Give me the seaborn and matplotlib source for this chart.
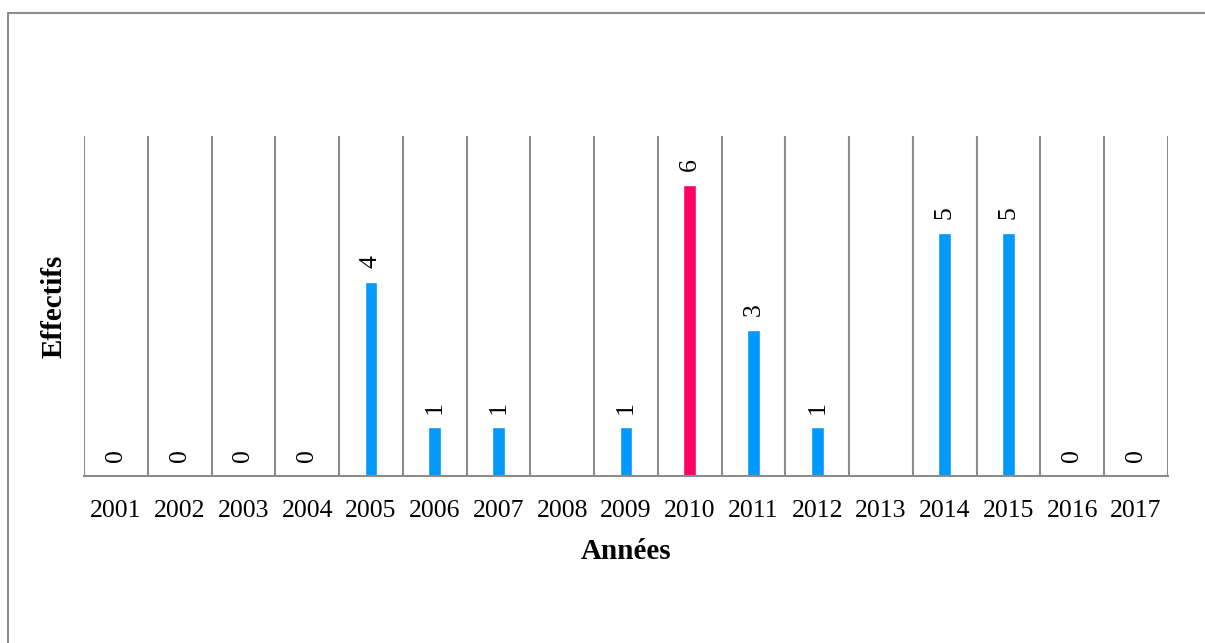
import numpy as np
import pandas as pd
import matplotlib
matplotlib.use("Agg")
import matplotlib.pyplot as plt
import seaborn as sns
from matplotlib.lines import Line2D

annees = [str(a) for a in range(2001, 2018)]
effectifs = [0, 0, 0, 0, 4, 1, 1, np.nan, 1, 6, 3, 1, np.nan, 5, 5, 0, 0]
couleurs = ["#0099FF"] * 9 + ["#FF0066"] + ["#0099FF"] * 7

df = pd.DataFrame({"annee": annees, "effectif": effectifs})

sns.set_style("white")
plt.rcParams["font.family"] = ["Liberation Serif", "DejaVu Serif"]
plt.rcParams["text.color"] = "black"
plt.rcParams["axes.labelcolor"] = "black"
plt.rcParams["xtick.color"] = "black"

fig = plt.figure(figsize=(12.05, 6.43), dpi=100)
ax = fig.add_axes([0.0697, 0.2597, 0.8996, 0.5288])

sns.barplot(data=df, x="annee", y="effectif", hue="annee",
            palette=couleurs, legend=False, width=0.2, saturation=1, ax=ax)

ax.set_xlim(-0.5, len(annees) - 0.5)
ax.set_ylim(0, 7)

# separateurs verticaux entre categories
grille = "#8c8c8c"
for x in np.arange(-0.5, len(annees), 1):
    ax.axvline(x, color=grille, lw=1.5, zorder=0)

for s in ["top", "right", "left"]:
    ax.spines[s].set_visible(False)
ax.spines["bottom"].set_color(grille)
ax.spines["bottom"].set_linewidth(1.5)

ax.set_yticks([])
ax.tick_params(axis="x", length=0, pad=17, labelsize=18.5)

for i, v in enumerate(effectifs):
    if np.isnan(v):
        continue
    ax.annotate(f"{int(v)}", (i, v), xytext=(0, 10), textcoords="offset points",
                rotation=90, ha="center", va="bottom", fontsize=18.5, color="black")

ax.set_xlabel("Années", fontsize=21, fontweight="bold", labelpad=12)
ax.set_ylabel("Effectifs", fontsize=21, fontweight="bold", labelpad=12)

# bordure du cadre
fig.add_artist(Line2D([8 / 1205, 8 / 1205], [0, 1 - 13 / 643], color=grille, lw=1.5))
fig.add_artist(Line2D([8 / 1205, 1], [1 - 13 / 643, 1 - 13 / 643], color=grille, lw=1.5))

fig.savefig("out.png", dpi=100)
